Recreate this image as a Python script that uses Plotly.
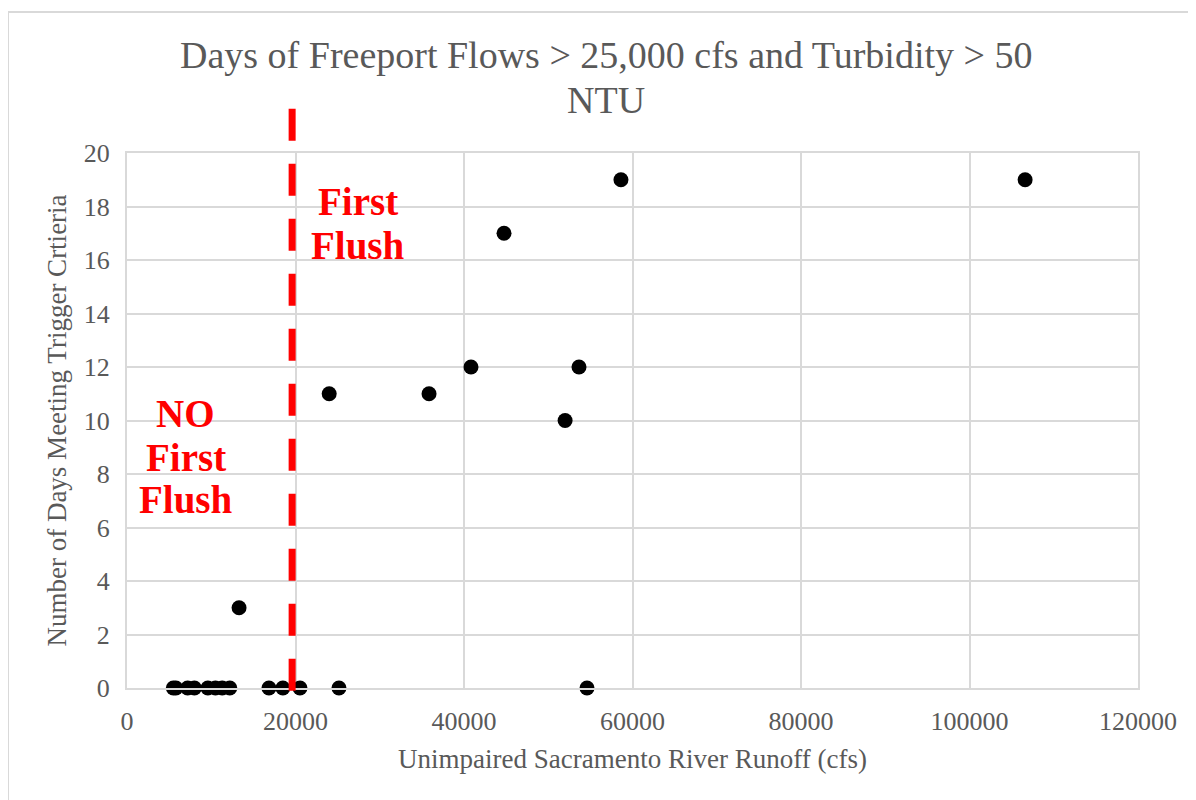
import plotly.graph_objects as go

runoff_cfs = [5500, 5800, 7200, 8000, 9600, 10500, 11300, 12200, 13300, 16850, 18500,
              20530, 25160, 54600, 24000, 35850, 40830, 44750, 53650, 52000, 58630, 106600]
days_meeting = [0, 0, 0, 0, 0, 0, 0, 0, 3, 0, 0, 0, 0, 0, 11, 11, 12, 17, 12, 10, 19, 19]
threshold_cfs = 19600

title_lines = ["Days of Freeport Flows > 25,000 cfs and Turbidity > 50", "NTU"]
x_title = "Unimpaired Sacramento River Runoff (cfs)"
y_title = "Number of Days Meeting Trigger Crtieria"

first_flush_lines = ["First", "Flush"]
first_flush_x = 27400
first_flush_y = [18.17, 16.56]
no_flush_lines = ["NO", "First", "Flush"]
no_flush_x = 7000
no_flush_y = [10.28, 8.6, 7.03]

FONT = "Liberation Serif"
GRAY = "#595959"
GRID = "#d9d9d9"

fig = go.Figure()
fig.add_trace(go.Scatter(
    x=runoff_cfs, y=days_meeting, mode="markers",
    marker=dict(color="black", size=15, line=dict(width=0)),
    cliponaxis=False, showlegend=False,
))

fig.add_shape(type="line", xref="x", yref="paper", x0=threshold_cfs, x1=threshold_cfs,
              y0=-0.005, y1=1.093, line=dict(color="#ff0000", width=7, dash="32px,23px"))

# outer chart border
fig.add_shape(type="rect", xref="paper", yref="paper",
              x0=-119 / 1011, x1=1.2, y0=-0.3, y1=(688 - 12) / 535,
              line=dict(color=GRID, width=2), layer="below")

# title as two lines (page centres y=55 and y=100)
for txt, py in zip(title_lines, [55, 100]):
    fig.add_annotation(text=txt, xref="paper", yref="paper",
                       x=(606 - 127) / 1011, y=(688 - py) / 535,
                       xanchor="center", yanchor="middle", showarrow=False,
                       font=dict(family=FONT, size=38, color=GRAY))

for txt, yy in zip(first_flush_lines, first_flush_y):
    fig.add_annotation(x=first_flush_x, y=yy, xref="x", yref="y", text=f"<b>{txt}</b>",
                       showarrow=False, font=dict(family=FONT, size=39, color="#ff0000"))
for txt, yy in zip(no_flush_lines, no_flush_y):
    fig.add_annotation(x=no_flush_x, y=yy, xref="x", yref="y", text=f"<b>{txt}</b>",
                       showarrow=False, font=dict(family=FONT, size=39, color="#ff0000"))

fig.update_layout(
    width=1196, height=800,
    margin=dict(l=119, r=66, t=145, b=120),
    paper_bgcolor="white", plot_bgcolor="white",
    font=dict(family=FONT, color=GRAY),
    xaxis=dict(range=[0, 120000], dtick=20000, tickformat="d", showgrid=True,
               gridcolor=GRID, gridwidth=2, showline=True, linecolor=GRID, linewidth=2,
               mirror=True, zeroline=False, ticks="", tickfont=dict(size=26, color=GRAY),
               ticklabelstandoff=9,
               title=dict(text=x_title, font=dict(size=27, color=GRAY), standoff=14)),
    yaxis=dict(range=[0, 20], dtick=2, showgrid=True, gridcolor=GRID, gridwidth=2,
               showline=True, linecolor=GRID, linewidth=2, mirror=True, zeroline=False,
               ticks="", tickfont=dict(size=26, color=GRAY), ticklabelstandoff=10,
               title=dict(text=y_title, font=dict(size=27, color=GRAY), standoff=9)),
)

fig.write_html("out.html")
